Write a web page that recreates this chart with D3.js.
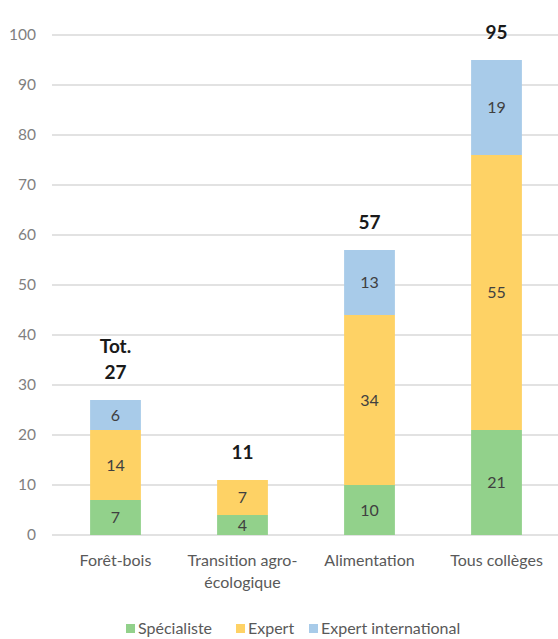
<!DOCTYPE html>
<html><head><meta charset="utf-8">
<script src="https://cdn.jsdelivr.net/npm/d3@7"></script>
<style>body{margin:0;background:#fff}svg{display:block}</style>
</head><body>
<script>
const categories = [["Forêt-bois"], ["Transition agro-", "écologique"], ["Alimentation"], ["Tous collèges"]];
const seriesNames = ["Spécialiste", "Expert", "Expert international"];
const specialiste = [7, 4, 10, 21];
const expert = [14, 7, 34, 55];
const expertInternational = [6, 0, 13, 19];
const totalLabels = [["Tot.", "27"], ["11"], ["57"], ["95"]];
const yTicks = [0, 10, 20, 30, 40, 50, 60, 70, 80, 90, 100];
const colors = ["#92d18b", "#fed265", "#a8cbe9"];

const W = 558, H = 639;
const svg = d3.select("body").append("svg").attr("width", W).attr("height", H);
const font = "Lato, 'Open Sans', sans-serif";

const idx = categories.map((d, i) => i);
const x = d3.scaleBand().domain(idx).range([52, 560]).paddingInner(0.6).paddingOuter(0.3);
const y = d3.scaleLinear().domain([0, 100]).range([535, 35]);

// gridlines
svg.append("g").selectAll("line").data(yTicks).join("line")
  .attr("x1", 52).attr("x2", 560)
  .attr("y1", d => y(d)).attr("y2", d => y(d))
  .attr("stroke", "#d9d9d9").attr("stroke-width", 1.5);

// y tick labels
svg.append("g").selectAll("text").data(yTicks).join("text")
  .attr("x", 36).attr("y", d => y(d)).attr("dy", "0.35em")
  .attr("text-anchor", "end").attr("font-family", font).attr("font-size", 15.5)
  .attr("fill", "#7f7f7f").text(d => d);

const rows = idx.map(i => ({i, s: specialiste[i], e: expert[i], ei: expertInternational[i]}));
const stack = d3.stack().keys(["s", "e", "ei"])(rows);

const g = svg.append("g");
stack.forEach((layer, k) => {
  g.selectAll(null).data(layer.filter(d => d[1] > d[0])).join("rect")
    .attr("x", d => x(d.data.i)).attr("width", x.bandwidth())
    .attr("y", d => y(d[1])).attr("height", d => y(d[0]) - y(d[1]))
    .attr("fill", colors[k]);
  g.selectAll(null).data(layer.filter(d => d[1] > d[0])).join("text")
    .attr("x", d => x(d.data.i) + x.bandwidth() / 2)
    .attr("y", d => y((d[0] + d[1]) / 2)).attr("dy", "0.35em")
    .attr("text-anchor", "middle").attr("font-family", font).attr("font-size", 16)
    .attr("fill", "#404040").text(d => d[1] - d[0]);
});

// totals
const topLayer = stack[2];
topLayer.forEach((d, i) => {
  const lines = totalLabels[i];
  const t = svg.append("text").attr("text-anchor", "middle")
    .attr("font-family", font).attr("font-size", 19).attr("font-weight", "bold").attr("fill", "#1a1a1a");
  lines.forEach((ln, j) => {
    t.append("tspan").attr("x", x(i) + x.bandwidth() / 2)
      .attr("y", y(d[1]) - 21 - (lines.length - 1 - j) * 26).text(ln);
  });
});

// x labels
categories.forEach((lines, i) => {
  const t = svg.append("text").attr("text-anchor", "middle")
    .attr("font-family", font).attr("font-size", 16).attr("fill", "#595959");
  lines.forEach((ln, j) => {
    t.append("tspan").attr("x", x(i) + x.bandwidth() / 2).attr("y", 566 + j * 22).text(ln);
  });
});

// legend
const legX = [126, 236, 309];
const leg = svg.append("g");
seriesNames.forEach((n, k) => {
  leg.append("rect").attr("x", legX[k]).attr("y", 624).attr("width", 9).attr("height", 9).attr("fill", colors[k]);
  leg.append("text").attr("x", legX[k] + 12).attr("y", 628.5).attr("dy", "0.35em")
    .attr("font-family", font).attr("font-size", 16).attr("fill", "#595959").text(n);
});
</script>
</body></html>
